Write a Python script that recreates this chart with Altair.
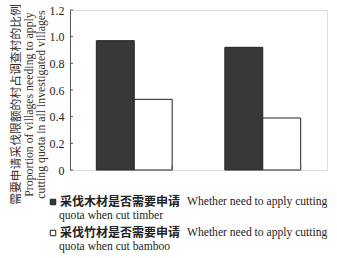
import altair as alt
import pandas as pd

years = ["2005", "2010"]
series = ["timber", "bamboo"]
timber_vals = [0.97, 0.92]
bamboo_vals = [0.53, 0.39]
y_ticks = [0, 0.2, 0.4, 0.6, 0.8, 1.0, 1.2]
y_title = ["需要申请采伐限额的村占调查村的比例",
           "Proportion of villages needing to apply",
           "cutting quota in all investigated villages"]
legend_cn = ["采伐木材是否需要申请", "采伐竹材是否需要申请"]
legend_en1 = ["Whether need to apply cutting", "Whether need to apply cutting"]
legend_en2 = ["quota when cut timber", "quota when cut bamboo"]
fills = ["#383838", "#ffffff"]

SERIF = "Liberation Serif, Noto Sans CJK SC"
CJK = "Noto Sans CJK SC"

rows = []
for i, y in enumerate(years):
    rows.append({"year": y, "series": "timber", "value": timber_vals[i]})
    rows.append({"year": y, "series": "bamboo", "value": bamboo_vals[i]})
df = pd.DataFrame(rows)
tick_df = pd.DataFrame({"v": y_ticks})
year_df = pd.DataFrame({"year": years})
leg_df = pd.DataFrame({"series": series, "cn": legend_cn, "en1": legend_en1, "en2": legend_en2})

xscale = alt.Scale(domain=years, paddingInner=0.41, paddingOuter=0.205)
yscale = alt.Scale(domain=[0, 1.2], nice=False, zero=True)
fill_scale = alt.Scale(domain=series, range=fills)

bars = alt.Chart(df).mark_bar(stroke="#222222", strokeWidth=1).encode(
    x=alt.X("year:N", scale=xscale, sort=years,
            axis=alt.Axis(title=None, ticks=False, labelAngle=0, labelPadding=4,
                          labelFont=SERIF, labelFontSize=12, labelColor="#222",
                          domainColor="#555", domainWidth=1)),
    xOffset=alt.XOffset("series:N", sort=series,
                        scale=alt.Scale(domain=series, paddingInner=0, paddingOuter=0)),
    y=alt.Y("value:Q", scale=yscale,
            axis=alt.Axis(values=y_ticks, ticks=False, grid=False, labelPadding=6,
                          labelExpr="datum.value == 0 ? '0' : format(datum.value, '.1f')",
                          labelFont=SERIF, labelFontSize=12, labelColor="#222",
                          domainColor="#555", domainWidth=1,
                          title=y_title, titleFont=SERIF, titleFontSize=11.8,
                          titleFontWeight="normal", titleColor="#333",
                          titleAngle=270, titleBaseline="top", titleAlign="center",
                          titleX=-59.5, titleY=94, titleLineHeight=12.5)),
    fill=alt.Fill("series:N", scale=fill_scale, legend=None),
)

yt = alt.Chart(tick_df).mark_rule(color="#555", strokeWidth=1).encode(
    y=alt.Y("v:Q", scale=yscale, axis=None),
    x=alt.value(0), x2=alt.value(3),
)

xt = alt.Chart(year_df).mark_rule(color="#555", strokeWidth=1).encode(
    x=alt.X("year:N", scale=xscale, sort=years, bandPosition=1, axis=None),
    y=alt.value(160), y2=alt.value(155),
)

lscale = alt.Scale(domain=series, range=[192, 223], padding=0)
leg_base = alt.Chart(leg_df).encode(y=alt.Y("series:N", scale=lscale, sort=series, axis=None))

lsq = leg_base.mark_point(shape="square", size=30, filled=True, stroke="#222",
                          strokeWidth=1, opacity=1).encode(
    x=alt.value(-17),
    fill=alt.Fill("series:N", scale=fill_scale, legend=None),
)
lcn = leg_base.mark_text(align="left", baseline="middle", font=CJK, fontSize=12,
                         fontWeight="bold", color="#222").encode(
    x=alt.value(-10), text="cn:N")
len1 = leg_base.mark_text(align="left", baseline="middle", font=SERIF, fontSize=11.6,
                          color="#222").encode(
    x=alt.value(117), text="en1:N")
len2 = leg_base.mark_text(align="left", baseline="middle", font=SERIF, fontSize=11.6,
                          color="#222", dy=13.5).encode(
    x=alt.value(-11), text="en2:N")

chart = alt.layer(bars, yt, xt, lsq, lcn, len1, len2).resolve_scale(
    y="independent", fill="shared"
).properties(
    width=257, height=160,
    autosize=alt.AutoSizeParams(type="none"),
    padding={"left": 70, "top": 10, "right": 10, "bottom": 88},
).configure_view(stroke=None).configure(background="white")

chart.save("out.html", embed_options={"renderer": "svg", "actions": False})
